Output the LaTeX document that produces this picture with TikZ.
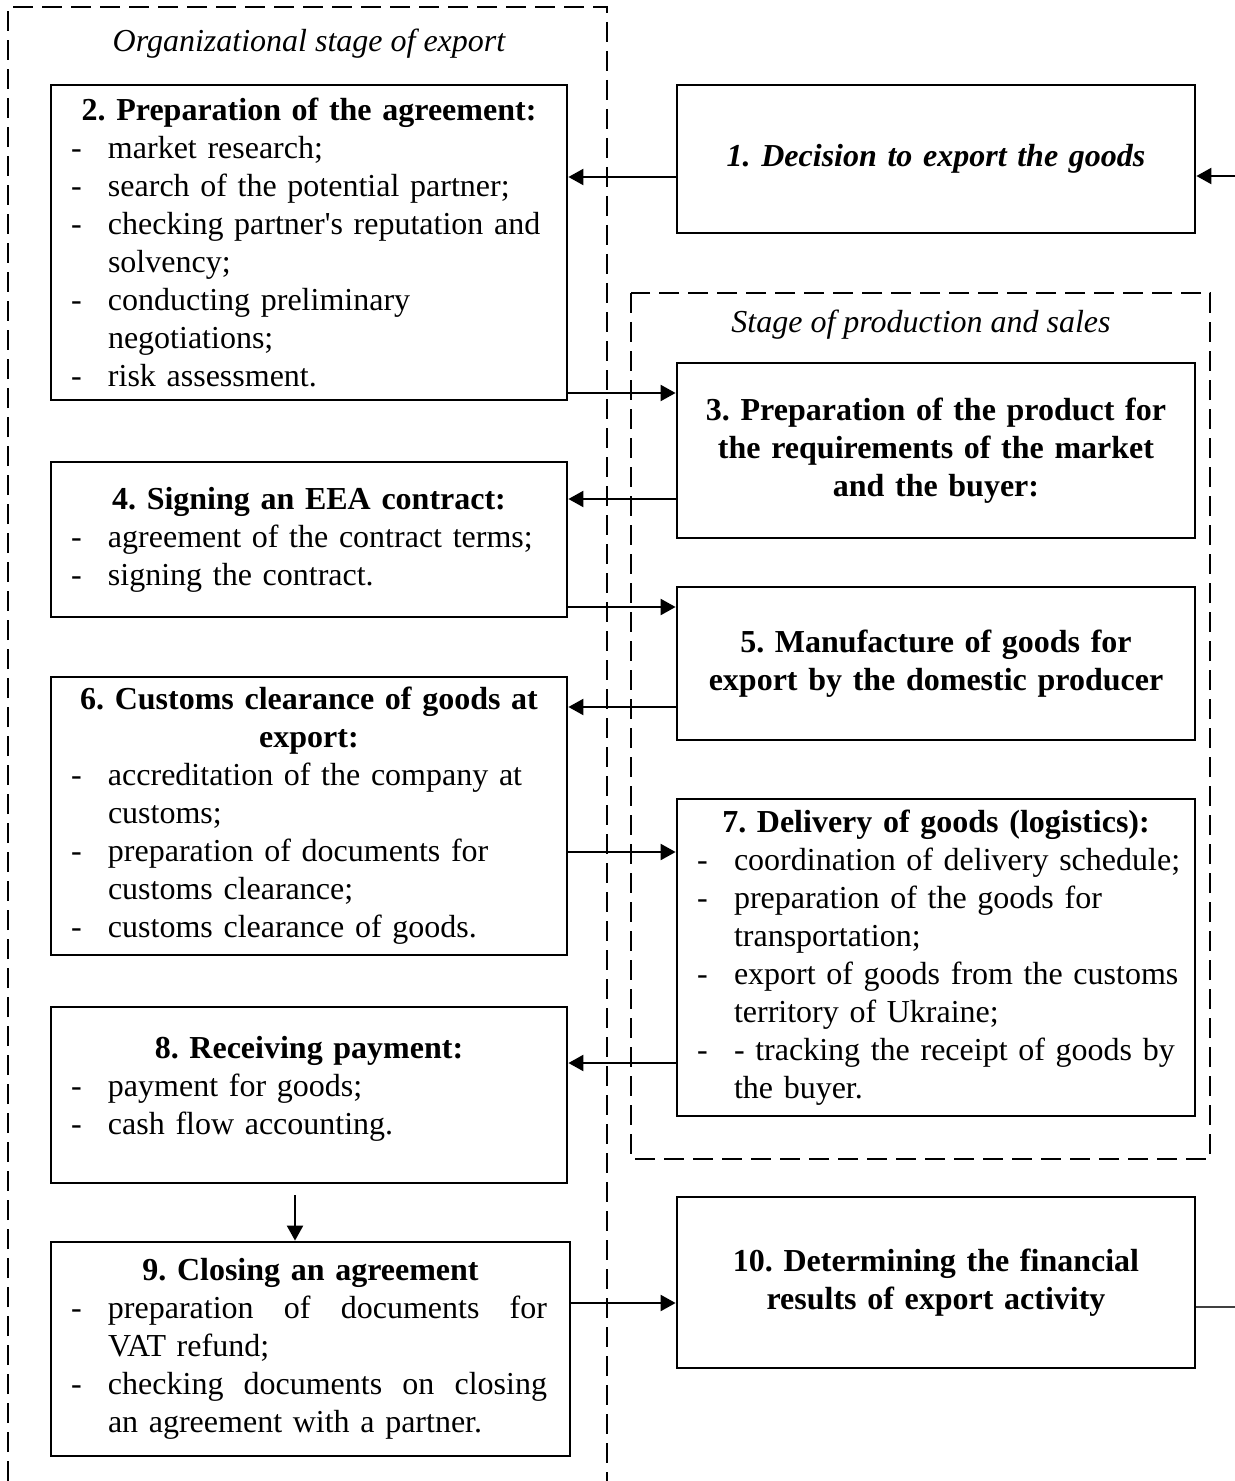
\documentclass[tikz,border=0pt]{standalone}
\usepackage{fontspec}
\setmainfont{Liberation Serif}
\usetikzlibrary{arrows.meta, calc}

% dash + indent for the list lines
\newcommand{\itm}{\par\noindent\makebox[28.5pt][l]{\hspace{10pt}-}}
\newcommand{\nxt}{\par\noindent\hspace*{28.5pt}}

\begin{document}
\frenchspacing
\begin{tikzpicture}[
    x=0.5pt, y=-0.5pt,
    font=\fontsize{16}{19}\selectfont,
    box/.style={rectangle, draw, line width=1.4pt, inner sep=0pt, text width=258pt, align=left},
    cbox/.style={box, align=center, font=\fontsize{16}{19}\selectfont\bfseries},
    frame/.style={draw, line width=1pt, dash pattern=on 10pt off 4.5pt},
    stagelbl/.style={font=\fontsize{16}{19}\selectfont\itshape},
    arrow/.style={-{Triangle[length=7.5pt, width=8pt]}, line width=1.1pt}
]
    \useasboundingbox (0,0) rectangle (1235,1481);

    % Stages
    \draw[frame] (8,1481) -- (8,7) -- (607,7) -- (607,1481);
    \node[stagelbl] (orglbl) at (309,44) {Organizational stage of export};
    \draw[frame] (631,293) rectangle (1210,1159);
    \node[stagelbl] (prodlbl) at (921,325) {Stage of production and sales};

    % Right column
    \node[cbox, text width=259pt, minimum height=74pt, font=\fontsize{16}{19}\selectfont\bfseries\itshape] (dec) at (936,159) {1. Decision to export the goods};
    \node[cbox, text width=259pt, minimum height=87.5pt] (prod) at (936,450.5) {3. Preparation of the product for\\the requirements of the market\\and the buyer:};
    \node[cbox, text width=259pt, minimum height=76.5pt] (manuf) at (936,663.5) {5. Manufacture of goods for\\export by the domestic producer};
    \node[box, text width=259pt, minimum height=158.5pt] (deliv) at (936,957.5) {{\centering\bfseries 7. Delivery of goods (logistics):\par}
        \itm coordination of delivery schedule;
        \itm preparation of the goods for\nxt transportation;
        \itm export of goods from the customs\nxt territory of Ukraine;
        \itm - tracking the receipt of goods by\nxt the buyer.};
    \node[cbox, text width=259pt, minimum height=85.5pt] (fin) at (936,1282.5) {10. Determining the financial\\results of export activity};

    % Left column
    \node[box, minimum height=157.5pt] (prep) at (309,242.5) {{\centering\bfseries 2. Preparation of the agreement:\par}
        \itm market research;
        \itm search of the potential partner;
        \itm checking partner\textquotesingle s reputation and\nxt solvency;
        \itm conducting preliminary\nxt negotiations;
        \itm risk assessment.};
    \node[box, minimum height=77.5pt] (sign) at (309,539.5) {{\centering\bfseries 4. Signing an EEA contract:\par}
        \itm agreement of the contract terms;
        \itm signing the contract.};
    \node[box, minimum height=139pt] (cust) at (309,816) {{\centering\bfseries 6. Customs clearance of goods at\\export:\par}
        \itm accreditation of the company at\nxt customs;
        \itm preparation of documents for\nxt customs clearance;
        \itm customs clearance of goods.};
    \node[box, minimum height=88pt] (pay) at (309,1095) {{\centering\bfseries 8. Receiving payment:\par}
        \itm payment for goods;
        \itm cash flow accounting.\par\nointerlineskip\rule{0pt}{6pt}};
    \node[box, text width=259.5pt, minimum height=107pt] (close) at (310.5,1349) {{\centering\bfseries 9. Closing an agreement\par}
        \itm \makebox[219.5pt][l]{preparation\hfill of\hfill documents\hfill for}\nxt VAT refund;
        \itm \makebox[219.5pt][l]{checking\hfill documents\hfill on\hfill closing}\nxt an agreement with a partner.};

    % Arrow levels
    \coordinate (edge) at (1235,0);
    \coordinate (pin) at ([yshift=-8.5pt]dec.east);
    \coordinate (p12) at ([yshift=-9pt]dec.west);
    \coordinate (p23) at ([yshift=28.75pt]prod.west);
    \coordinate (p34) at ([yshift=-24.25pt]prod.west);
    \coordinate (p45) at ([yshift=28.25pt]manuf.west);
    \coordinate (p56) at ([yshift=-21.75pt]manuf.west);
    \coordinate (p67) at ([yshift=52.75pt]deliv.west);
    \coordinate (p78) at ([yshift=-52.75pt]deliv.west);
    \coordinate (p89) at ([xshift=-7pt, yshift=-5.5pt]pay.south);
    \coordinate (p910) at ([yshift=-10.25pt]fin.west);
    \coordinate (pout) at ([yshift=-12.25pt]fin.east);

    % Arrows
    \draw[arrow] (edge |- pin) -- (pin);
    \draw[arrow] (p12) -- (p12 -| prep.east);
    \draw[arrow] (p23 -| prep.east) -- (p23);
    \draw[arrow] (p34) -- (p34 -| sign.east);
    \draw[arrow] (p45 -| sign.east) -- (p45);
    \draw[arrow] (p56) -- (p56 -| cust.east);
    \draw[arrow] (p67 -| cust.east) -- (p67);
    \draw[arrow] (p78) -- (p78 -| pay.east);
    \draw[arrow] (p89) -- (p89 |- close.north);
    \draw[arrow] (p910 -| close.east) -- (p910);
    \draw[line width=0.6pt, black!75] (pout) -- (edge |- pout);
\end{tikzpicture}
\end{document}
